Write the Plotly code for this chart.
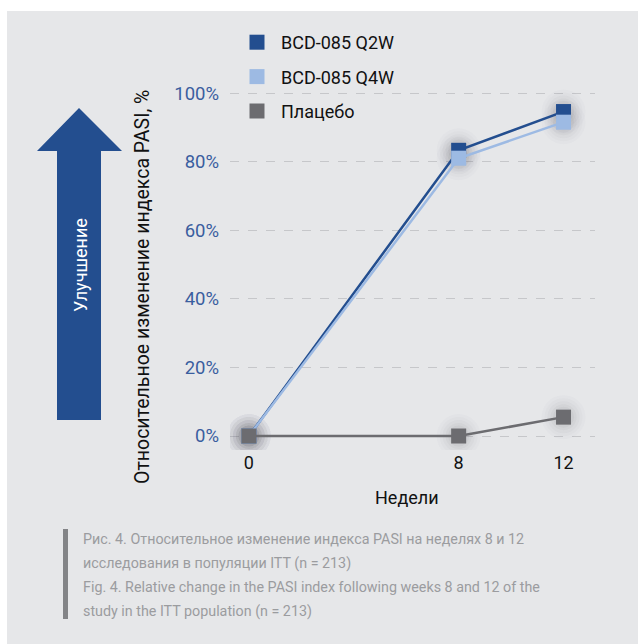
import plotly.graph_objects as go

weeks = [0, 8, 12]
q2w = [0, 83.3, 94.6]
q4w = [0, 81.0, 91.5]
placebo = [0, 0, 5.5]
series_names = ["BCD-085 Q2W", "BCD-085 Q4W", "Плацебо"]
colors = ["#234e8f", "#9dbae3", "#6c6c70"]
ytick_vals = [0, 20, 40, 60, 80, 100]
ytick_text = ["0%", "20%", "40%", "60%", "80%", "100%"]
xtick_vals = [0, 8, 12]
xtick_text = ["0", "8", "12"]
caption_lines = [
    "Рис. 4. Относительное изменение индекса PASI на неделях 8 и 12",
    "исследования в популяции ITT (n = 213)",
    "Fig. 4. Relative change in the PASI index following weeks 8 and 12 of the",
    "study in the ITT population (n = 213)",
]
y_title = "Относительное изменение индекса PASI, %"
x_title = "Недели"
arrow_label = "Улучшение"

W, H = 638, 644
L, R, T, B = 230, 595, 80, 450
FONT = "Roboto, Liberation Sans, sans-serif"


def px(x):
    return (x - L) / (R - L)


def py(y):
    return (B - y) / (B - T)


fig = go.Figure()
all_vals = [q2w, q4w, placebo]
# soft shadows under markers
for vals in all_vals:
    for s, op in [(44, 0.02), (38, 0.025), (32, 0.03), (26, 0.04), (21, 0.05)]:
        fig.add_trace(go.Scatter(
            x=weeks, y=vals, mode="markers", showlegend=False, hoverinfo="skip",
            marker=dict(symbol="circle", size=s, color="rgb(70,70,80)", opacity=op, line=dict(width=0)),
        ))
for name, vals, col in zip(series_names, all_vals, colors):
    fig.add_trace(go.Scatter(
        x=weeks, y=vals, name=name, mode="lines+markers", showlegend=False,
        line=dict(color=col, width=2.5),
        marker=dict(symbol="square", size=15, color=col, line=dict(width=0)),
    ))
# legend entries (marker only)
for name, col in zip(series_names, colors):
    fig.add_trace(go.Scatter(
        x=[None], y=[None], name=name, mode="markers", legendgroup=name,
        marker=dict(symbol="square", size=15, color=col, line=dict(width=0)),
    ))

shapes = [
    dict(type="rect", xref="paper", yref="paper", x0=px(7), x1=px(640), y0=py(11), y1=py(646),
         fillcolor="#e6e7e9", line=dict(width=0), layer="below"),
    dict(type="path", xref="paper", yref="paper",
         path=(f"M {px(57)} {py(420)} L {px(57)} {py(151)} L {px(37)} {py(151)} "
               f"L {px(79)} {py(108)} L {px(122)} {py(151)} L {px(101)} {py(151)} "
               f"L {px(101)} {py(420)} Z"),
         fillcolor="#234e8f", line=dict(width=0), layer="below"),
    dict(type="rect", xref="paper", yref="paper", x0=px(63), x1=px(68), y0=py(529), y1=py(619),
         fillcolor="#838487", line=dict(width=0)),
]

annotations = [
    dict(text=arrow_label, xref="paper", yref="paper", x=px(80), y=py(265), showarrow=False,
         textangle=-90, font=dict(family=FONT, size=18, color="white"), xanchor="center", yanchor="middle"),
    dict(text=y_title, xref="paper", yref="paper", x=px(142), y=py(287), showarrow=False,
         textangle=-90, font=dict(family=FONT, size=19.5, color="#111111"), xanchor="center", yanchor="middle"),
    dict(text=x_title, xref="paper", yref="paper", x=px(407), y=py(497), showarrow=False,
         font=dict(family=FONT, size=18, color="#111111"), xanchor="center", yanchor="middle"),
]
for i, line in enumerate(caption_lines):
    annotations.append(dict(text=line, xref="paper", yref="paper", x=px(81), y=py(539 + 24 * i),
                            showarrow=False, xanchor="left", yanchor="middle",
                            font=dict(family=FONT, size=14.3, color="#9b9c9f")))

fig.update_layout(
    width=W, height=H,
    margin=dict(l=L, r=W - R, t=T, b=H - B),
    paper_bgcolor="white", plot_bgcolor="rgba(0,0,0,0)",
    shapes=shapes, annotations=annotations,
    showlegend=True,
    legend=dict(x=px(233), y=py(24), xanchor="left", yanchor="top",
                font=dict(family=FONT, size=18, color="#111111"),
                bgcolor="rgba(0,0,0,0)", itemsizing="trace", tracegroupgap=8,
                itemwidth=38),
    font=dict(family=FONT),
)
fig.update_xaxes(range=[-0.72, 13.2], tickvals=xtick_vals, ticktext=xtick_text,
                 showgrid=False, zeroline=False, showline=False,
                 tickfont=dict(family=FONT, size=18, color="#111111"))
fig.update_yaxes(range=[-4.08, 103.8], tickvals=ytick_vals, ticktext=ytick_text,
                 showgrid=True, gridcolor="#c6c7ca", griddash="dash", gridwidth=1.2,
                 zeroline=False, showline=False, ticklabelstandoff=10,
                 tickfont=dict(family=FONT, size=18.5, color="#3a5e9f"))

fig.write_html("out.html")
